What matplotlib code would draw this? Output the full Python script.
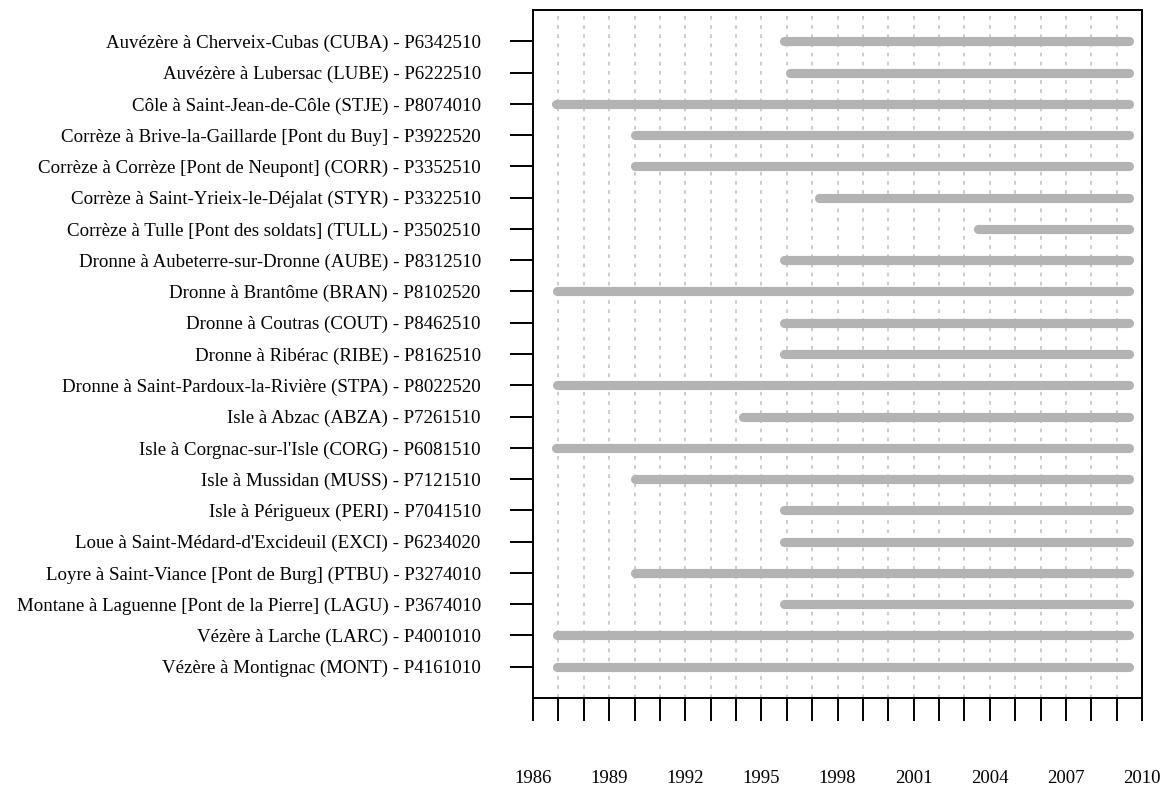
import matplotlib.pyplot as plt

stations = [
    "Auvézère à Cherveix-Cubas (CUBA) - P6342510",
    "Auvézère à Lubersac (LUBE) - P6222510",
    "Côle à Saint-Jean-de-Côle (STJE) - P8074010",
    "Corrèze à Brive-la-Gaillarde [Pont du Buy] - P3922520",
    "Corrèze à Corrèze [Pont de Neupont] (CORR) - P3352510",
    "Corrèze à Saint-Yrieix-le-Déjalat (STYR) - P3322510",
    "Corrèze à Tulle [Pont des soldats] (TULL) - P3502510",
    "Dronne à Aubeterre-sur-Dronne (AUBE) - P8312510",
    "Dronne à Brantôme (BRAN) - P8102520",
    "Dronne à Coutras (COUT) - P8462510",
    "Dronne à Ribérac (RIBE) - P8162510",
    "Dronne à Saint-Pardoux-la-Rivière (STPA) - P8022520",
    "Isle à Abzac (ABZA) - P7261510",
    "Isle à Corgnac-sur-l'Isle (CORG) - P6081510",
    "Isle à Mussidan (MUSS) - P7121510",
    "Isle à Périgueux (PERI) - P7041510",
    "Loue à Saint-Médard-d'Excideuil (EXCI) - P6234020",
    "Loyre à Saint-Viance [Pont de Burg] (PTBU) - P3274010",
    "Montane à Laguenne [Pont de la Pierre] (LAGU) - P3674010",
    "Vézère à Larche (LARC) - P4001010",
    "Vézère à Montignac (MONT) - P4161010",
]

# debut / fin des chroniques (annees decimales)
start_year = [1995.9, 1996.13, 1986.9, 1990.0, 1990.0, 1997.27, 2003.52,
              1995.9, 1986.95, 1995.9, 1995.9, 1986.95, 1994.27, 1986.9,
              1990.0, 1995.9, 1995.9, 1990.0, 1995.9, 1986.95, 1986.95]
end_year = [2009.5, 2009.5, 2009.5, 2009.5, 2009.5, 2009.5, 2009.5,
            2009.5, 2009.5, 2009.5, 2009.5, 2009.5, 2009.5, 2009.5,
            2009.5, 2009.5, 2009.5, 2009.5, 2009.5, 2009.5, 2009.5]

years = list(range(1986, 2011))
year_labels = [str(y) if (y - 1986) % 3 == 0 else "" for y in years]

plt.rcParams["font.family"] = ["Liberation Serif", "DejaVu Serif"]

fig = plt.figure(figsize=(11.65, 7.87), dpi=100)
ax = fig.add_axes([533 / 1165, 89 / 787, 609 / 1165, 688 / 787])

for i in range(len(stations)):
    ax.plot([start_year[i], end_year[i]], [i + 1, i + 1], color="#B3B3B3",
            lw=6.6, solid_capstyle="round", zorder=3)

ax.set_xlim(years[0], years[-1])
ax.set_ylim(len(stations) + 1, 0)

ax.set_xticks(years)
ax.set_xticklabels(year_labels, fontsize=13.5)
ax.set_yticks(range(1, len(stations) + 1))
ax.set_yticklabels(stations, fontsize=13.6)

ax.xaxis.grid(True, color="#BEBEBE", lw=1.1, ls=(0, (2.4, 3.6)), zorder=0)
ax.tick_params(axis="x", length=16.6, width=1.4, pad=35)
ax.tick_params(axis="y", length=16.6, width=1.4, pad=21)
for s in ax.spines.values():
    s.set_linewidth(1.4)

fig.savefig("out.png", dpi=100)
